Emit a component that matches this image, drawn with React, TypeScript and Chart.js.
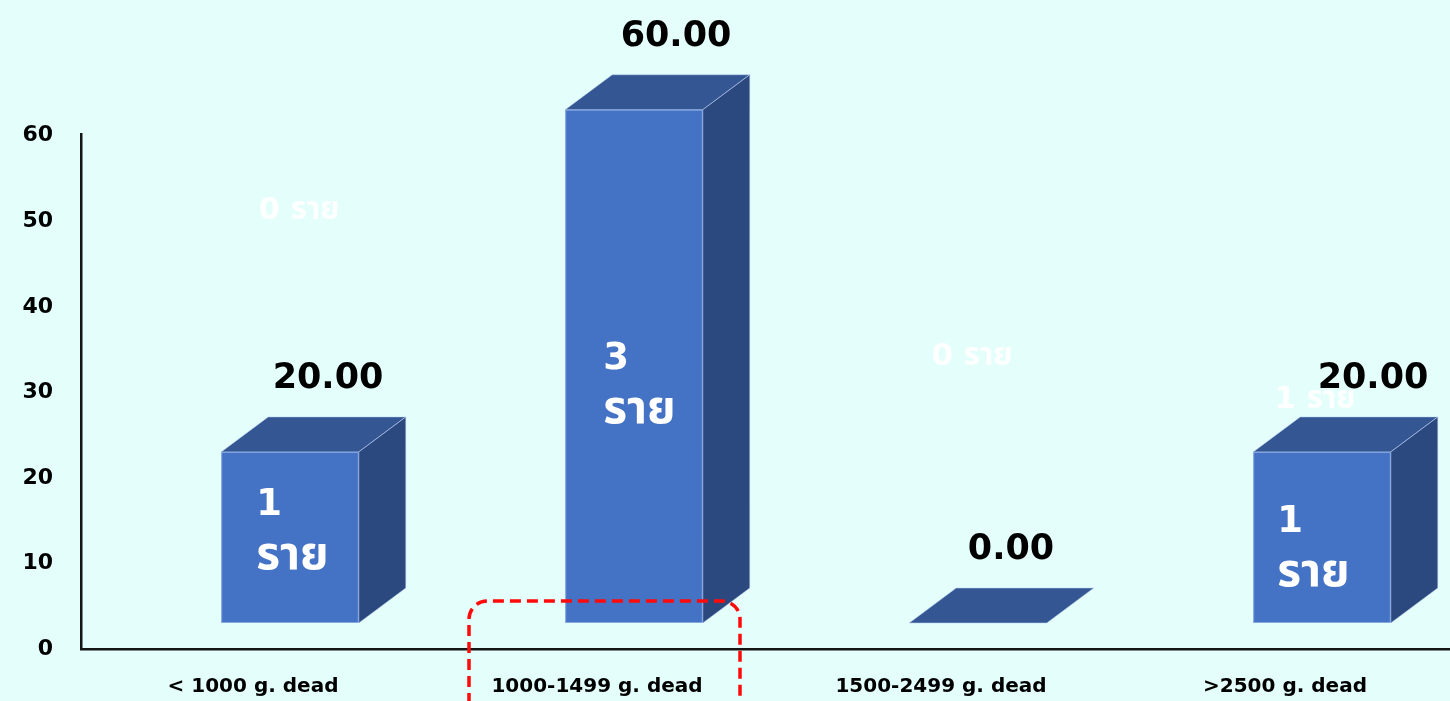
import React, { useEffect, useRef } from "react";
import { Chart, registerables } from "chart.js";

Chart.register(...registerables);

const CATEGORIES = ["< 1000 g. dead", "1000-1499 g. dead", "1500-2499 g. dead", ">2500 g. dead"];
const RATES = [20, 60, 0, 20];
const VALUE_LABELS = ["20.00", "60.00", "0.00", "20.00"];
const CASE_COUNTS = ["1", "3", "", "1"];
const CASE_UNIT = "ราย";
const Y_TICKS = [0, 10, 20, 30, 40, 50, 60];
const FAINT_TEXT = ["0 ราย", "0 ราย", "1 ราย"];
const FAINT_CATEGORY = [0, 2, 3];
const FAINT_LEVEL = [51.2, 34.1, 29.1];

// label layout nudges (pixels), kept apart from the data
const VALUE_LABEL_DX = [38, 42, 33, 51];
const CASE_LABEL_DX = [35, 38, 0, 24];
const CASE_LABEL_DY = [-32, -7, 0, -15];
const FAINT_DX = [46, 31, 30];

const FONT = '"DejaVu Sans", "Noto Sans Thai", "Noto Sans", sans-serif';
const BG = "#e4fffb";
const FRONT = "#4472c4";
const TOP = "#345794";
const SIDE = "#2c497f";

const DX = 37; // front face shift
const DY = 26;
const DEPTH_X = 47;
const DEPTH_Y = 35;

const box3d = {
  id: "box3d",
  afterDatasetsDraw(chart: any) {
    const ctx = chart.ctx;
    const meta = chart.getDatasetMeta(0);
    const xs = chart.scales.x;
    const ys = chart.scales.y;
    ctx.save();
    meta.data.forEach((el: any, i: number) => {
      const p = el.getProps(["x", "y", "base", "width"], true);
      const l = p.x - p.width / 2 + DX;
      const r = p.x + p.width / 2 + DX;
      const t = p.y - DY;
      const b = p.base - DY;
      ctx.lineWidth = 1;
      ctx.strokeStyle = "rgba(190,210,245,0.55)";
      // top face
      ctx.beginPath();
      ctx.moveTo(l, t);
      ctx.lineTo(l + DEPTH_X, t - DEPTH_Y);
      ctx.lineTo(r + DEPTH_X, t - DEPTH_Y);
      ctx.lineTo(r, t);
      ctx.closePath();
      ctx.fillStyle = TOP;
      ctx.fill();
      ctx.stroke();
      if (b - t > 0.5) {
        // side face
        ctx.beginPath();
        ctx.moveTo(r, t);
        ctx.lineTo(r + DEPTH_X, t - DEPTH_Y);
        ctx.lineTo(r + DEPTH_X, b - DEPTH_Y);
        ctx.lineTo(r, b);
        ctx.closePath();
        ctx.fillStyle = SIDE;
        ctx.fill();
        ctx.stroke();
        // front face
        ctx.fillStyle = FRONT;
        ctx.fillRect(l, t, r - l, b - t);
        ctx.strokeRect(l + 0.5, t + 0.5, r - l - 1, b - t - 1);
      }
      // value label
      ctx.fillStyle = "#000";
      ctx.font = `bold 35px ${FONT}`;
      ctx.textAlign = "center";
      ctx.textBaseline = "middle";
      ctx.fillText(VALUE_LABELS[i], (l + r) / 2 + VALUE_LABEL_DX[i], p.y - 99);
      // case labels inside
      if (CASE_COUNTS[i]) {
        const mid = (t + b) / 2;
        ctx.fillStyle = "#fff";
        ctx.textAlign = "left";
        ctx.font = `bold 37px ${FONT}`;
        ctx.fillText(CASE_COUNTS[i], l + CASE_LABEL_DX[i], mid + CASE_LABEL_DY[i]);
        ctx.font = `bold 46px ${FONT}`;
        ctx.fillText(CASE_UNIT, l + CASE_LABEL_DX[i], mid + CASE_LABEL_DY[i] + 52);
      }
    });
    // faint white labels
    ctx.fillStyle = "rgba(255,255,255,0.95)";
    ctx.font = `bold 31px ${FONT}`;
    ctx.textAlign = "center";
    ctx.textBaseline = "middle";
    FAINT_TEXT.forEach((txt, k) => {
      ctx.fillText(txt, xs.getPixelForValue(FAINT_CATEGORY[k]) + FAINT_DX[k], ys.getPixelForValue(FAINT_LEVEL[k]));
    });
    // red dashed rounded rectangle
    const cx = xs.getPixelForValue(1);
    const left = cx - 128;
    const right = cx + 143;
    const top = 601;
    const bottom = chart.height + 20;
    const rad = 18;
    ctx.setLineDash([11, 6]);
    ctx.lineWidth = 3.5;
    ctx.strokeStyle = "#ff0a0a";
    ctx.beginPath();
    ctx.moveTo(left, bottom);
    ctx.lineTo(left, top + rad);
    ctx.arcTo(left, top, left + rad, top, rad);
    ctx.lineTo(right - rad, top);
    ctx.arcTo(right, top, right, top + rad, rad);
    ctx.lineTo(right, bottom);
    ctx.stroke();
    ctx.restore();
  },
};

export default function App() {
  const ref = useRef<HTMLCanvasElement | null>(null);
  useEffect(() => {
    if (!ref.current) return;
    const chart = new Chart(ref.current, {
      type: "bar",
      data: {
        labels: CATEGORIES,
        datasets: [
          {
            data: RATES,
            backgroundColor: "rgba(0,0,0,0)",
            borderWidth: 0,
            categoryPercentage: 1,
            barPercentage: 0.4,
          },
        ],
      },
      options: {
        animation: false,
        responsive: true,
        maintainAspectRatio: false,
        layout: { padding: { top: 134, left: 0, right: 1, bottom: 0 } },
        plugins: { legend: { display: false }, tooltip: { enabled: false } },
        scales: {
          x: {
            grid: { display: false, drawTicks: false },
            border: { display: true, color: "#151515", width: 2.5 },
            ticks: { color: "#000", font: { family: FONT, size: 20, weight: "bold" }, padding: 26, maxRotation: 0 },
            afterFit: (s: any) => {
              s.height = 52;
            },
          },
          y: {
            min: 0,
            max: 60.2,
            grid: { display: false, drawTicks: false },
            border: { display: true, color: "#151515", width: 2.5 },
            ticks: {
              stepSize: 10,
              color: "#000",
              padding: 28,
              font: { family: FONT, size: 22, weight: "bold" },
            },
            afterBuildTicks: (s: any) => {
              s.ticks = Y_TICKS.map((v) => ({ value: v }));
            },
            afterFit: (s: any) => {
              s.width = 81;
            },
          },
        },
      },
      plugins: [box3d],
    });
    return () => chart.destroy();
  }, []);
  return (
    <div style={{ position: "fixed", left: 0, top: 0, width: 1450, height: 701, overflow: "hidden", background: BG }}>
      <div style={{ position: "absolute", left: 0, top: 0, width: 1458, height: 701 }}>
        <canvas ref={ref} />
      </div>
    </div>
  );
}
